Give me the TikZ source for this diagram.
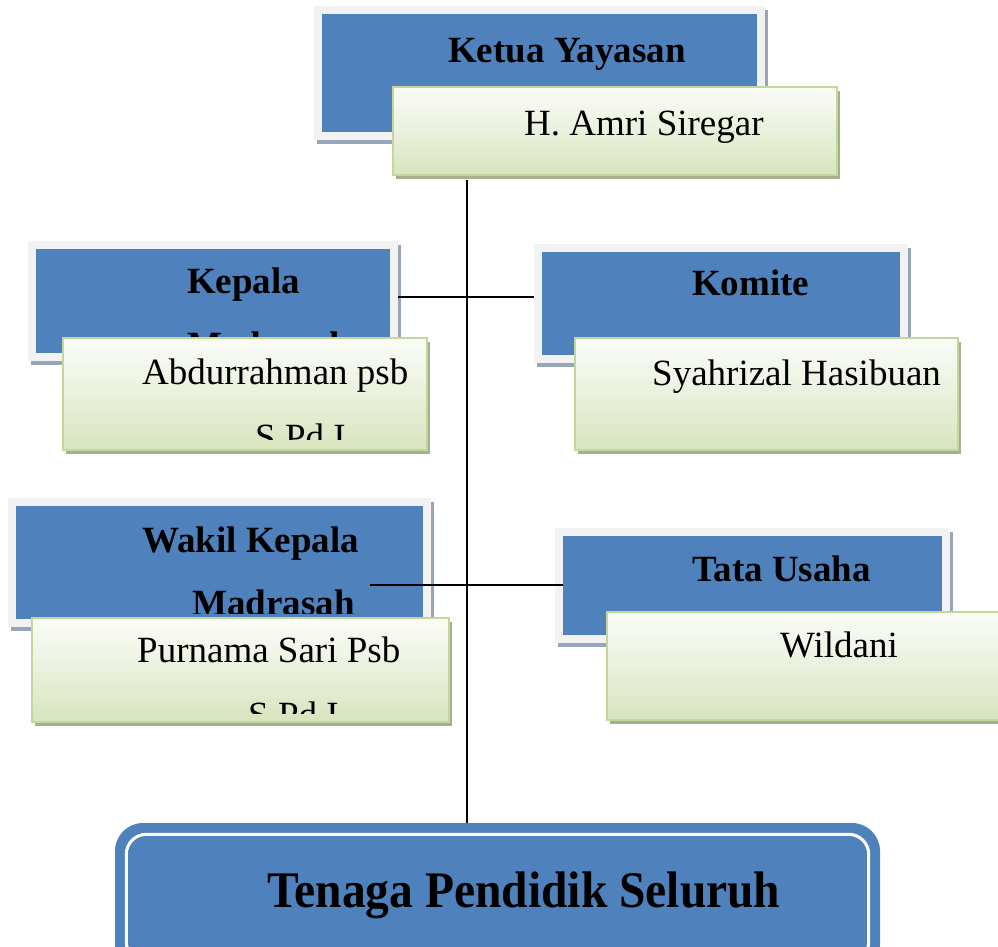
\documentclass[tikz,border=0pt]{standalone}
\usepackage{fontspec}
\setmainfont{Liberation Serif}
\usetikzlibrary{shadows,calc}
\definecolor{boxblue}{HTML}{4F81BD}
\definecolor{framegray}{HTML}{F2F2F2}
\definecolor{frameshadow}{HTML}{97A5B9}
\definecolor{greenedge}{HTML}{C3D69B}
\definecolor{greenbottom}{HTML}{D7E4BD}
\definecolor{greenshadow}{HTML}{A7B08D}
\pgfdeclareverticalshading{greenshade}{100bp}{color(0bp)=(greenbottom); color(25bp)=(greenbottom); color(60bp)=(greenbottom!35!white); color(85bp)=(white); color(100bp)=(white)}
\tikzset{
  framebox/.style={rectangle, inner sep=0pt, fill=framegray,
    drop shadow={shadow xshift=3pt, shadow yshift=-4pt, opacity=1, fill=frameshadow}},
  bluebox/.style={rectangle, inner sep=0pt, fill=boxblue},
  greenbox/.style={rectangle, inner sep=0pt, draw=greenedge, line width=2pt, shading=greenshade,
    drop shadow={shadow xshift=3pt, shadow yshift=-4pt, opacity=1, fill=greenshadow}},
  titletext/.style={inner sep=0pt, anchor=base west, font=\fontsize{37}{44}\selectfont\bfseries},
  nametext/.style={inner sep=0pt, anchor=base west, font=\fontsize{37}{44}\selectfont},
  connector/.style={draw=black, line width=1.3pt}
}
\begin{document}
\begin{tikzpicture}[x=1pt,y=-1pt]
\useasboundingbox (0,0) rectangle (998,946);
\clip (0,0) rectangle (998,946);

% ---------- Ketua Yayasan ----------
\node[framebox, minimum width=451pt, minimum height=134pt] (ketuaF) at (539.5,73) {};
\node[bluebox, minimum width=435pt, minimum height=118pt] (ketuaB) at (539.5,73) {};
\node[titletext] (ketuaT) at (448,62) {Ketua Yayasan};
\node[greenbox, minimum width=444pt, minimum height=88pt] (amri) at (615,131) {};
\node[nametext] (amriT) at (524,135) {H. Amri Siregar};

% ---------- Kepala Madrasah ----------
\node[framebox, minimum width=370pt, minimum height=120pt] (kepalaF) at (213,301) {};
\node[bluebox, minimum width=354pt, minimum height=104pt] (kepalaB) at (213,301) {};
\begin{scope}
  \clip (kepalaB.north west) rectangle ($(kepalaB.south east)+(0,-6)$);
  \node[titletext] (kepalaT1) at (187,293) {Kepala};
  \node[titletext] (kepalaT2) at (187,357) {Madrasah};
\end{scope}
\node[greenbox, minimum width=364pt, minimum height=112pt] (abdur) at (245,394) {};
\begin{scope}
  \clip ($(abdur.north west)+(2,2)$) rectangle ($(abdur.south east)+(-2,-12)$);
  \node[nametext] (abdurT1) at (142,384) {Abdurrahman psb};
  \node[nametext] (abdurT2) at (255,449) {S.Pd.I};
\end{scope}

% ---------- Komite ----------
\node[framebox, minimum width=374pt, minimum height=119pt] (komiteF) at (721,303.5) {};
\node[bluebox, minimum width=358pt, minimum height=103pt] (komiteB) at (721,303.5) {};
\node[titletext] (komiteT) at (692,295) {Komite};
\node[greenbox, minimum width=383pt, minimum height=112pt] (syah) at (766.5,394) {};
\node[nametext] (syahT) at (652,385) {Syahrizal Hasibuan};

% ---------- Wakil Kepala Madrasah ----------
\node[framebox, minimum width=423pt, minimum height=129pt] (wakilF) at (219.5,562.5) {};
\node[bluebox, minimum width=407pt, minimum height=113pt] (wakilB) at (219.5,562.5) {};
\begin{scope}
  \clip (wakilB.north west) rectangle ($(wakilB.south east)+(0,-6)$);
  \node[titletext] (wakilT1) at (142,552) {Wakil Kepala};
  \node[titletext] (wakilT2) at (192,615) {Madrasah};
\end{scope}

% ---------- Tata Usaha ----------
\node[framebox, minimum width=395pt, minimum height=115pt] (tataF) at (752.5,585.5) {};
\node[bluebox, minimum width=379pt, minimum height=99pt] (tataB) at (752.5,585.5) {};
\node[titletext] (tataT) at (692,581) {Tata Usaha};

% ---------- connectors ----------
\coordinate (vtop) at (467,180);
\coordinate (h1) at (467,297);
\coordinate (h2) at (467,585);
\coordinate (w2) at (370,585);
\node[rectangle, inner sep=0pt, fill=boxblue, rounded corners=28pt,
      minimum width=765pt, minimum height=150pt] (tenaga) at (497.5,898) {};
\draw[connector] (vtop) -- (vtop |- tenaga.north);
\draw[connector] (h1 -| kepalaF.east) -- (h1 -| komiteF.west);
\draw[connector] (w2) -- (h2 -| tataB.west);

% ---------- green boxes over lines ----------
\node[greenbox, minimum width=417pt, minimum height=104pt] (purn) at (240.5,670) {};
\begin{scope}
  \clip ($(purn.north west)+(2,2)$) rectangle ($(purn.south east)+(-2,-10)$);
  \node[nametext] (purnT1) at (137,662) {Purnama Sari Psb};
  \node[nametext] (purnT2) at (248,727) {S.Pd.I};
\end{scope}
\node[greenbox, minimum width=405pt, minimum height=108pt] (wild) at (809.5,666) {};
\node[nametext] (wildT) at (780,657) {Wildani};

% ---------- Tenaga Pendidik Seluruh ----------
\draw[white, line width=3pt, rounded corners=20pt]
  ($(tenaga.north west)+(11.5,11.5)$) rectangle ($(tenaga.south east)+(-11.5,-11.5)$);
\node[inner sep=0pt, anchor=base west, font=\fontsize{48}{56}\selectfont\bfseries] (tenagaT) at (267,907) {\scalebox{0.99}[1.07]{Tenaga Pendidik Seluruh}};
\end{tikzpicture}
\end{document}
